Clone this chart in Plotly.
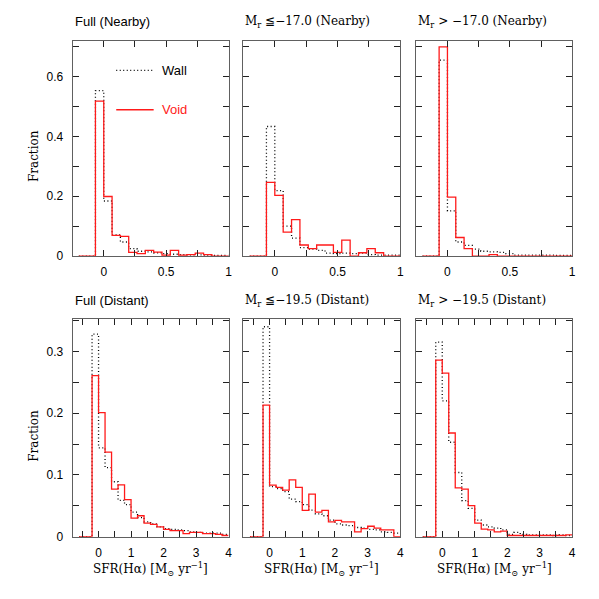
import plotly.graph_objects as go

# ---- bin definitions ----
# Nearby sample (top row): bins of 1/15, first edge at -0.2
NEAR_START = -0.2
NEAR_WIDTH = 1 / 15
# Distant sample (bottom row): bins of 0.2, first edge at -0.6
FAR_START = -0.6
FAR_WIDTH = 0.2

# ---- fractions per bin ----
full_near_wall = [0, 0, 0.553, 0.184, 0.071, 0.047, 0.025, 0.016, 0.014, 0.011,
                  0.008, 0.006, 0.005, 0.004, 0.004, 0.003, 0.002, 0.002]
full_near_void = [0, 0, 0.518, 0.199, 0.069, 0.066, 0.012, 0.008, 0.019, 0.013,
                  0.003, 0.019, 0.003, 0.005, 0.010, 0.005, 0.0, 0.0]

bright_near_wall = [0, 0, 0.433, 0.219, 0.100, 0.060, 0.028, 0.023, 0.019, 0.010,
                    0.008, 0.010, 0.008, 0.010, 0.005, 0.003, 0.003, 0.003]
bright_near_void = [0, 0, 0.246, 0.203, 0.080, 0.122, 0.037, 0.025, 0.037, 0.037,
                    0.012, 0.053, 0.0, 0.011, 0.025, 0.011, 0.0, 0.0]

faint_near_wall = [0, 0, 0.655, 0.151, 0.047, 0.036, 0.023, 0.016, 0.014, 0.012,
                   0.008, 0.003, 0.003, 0.003, 0.003, 0.003, 0.002, 0.002]
faint_near_void = [0, 0, 0.699, 0.197, 0.062, 0.025, 0.0, 0.0, 0.005, 0.0,
                   0.0, 0.0, 0.0, 0.0, 0.0, 0.0, 0.0, 0.0]

full_far_wall = [0, 0, 0.328, 0.144, 0.112, 0.089, 0.059, 0.052, 0.040, 0.031, 0.024,
                 0.021, 0.016, 0.013, 0.012, 0.011, 0.010, 0.008, 0.007, 0.006, 0.006,
                 0.006, 0.004]
full_far_void = [0, 0, 0.261, 0.201, 0.137, 0.077, 0.084, 0.060, 0.030, 0.034, 0.022,
                 0.020, 0.016, 0.012, 0.010, 0.010, 0.005, 0.007, 0.007, 0.005, 0.005,
                 0.004, 0.002]

bright_far_wall = [0, 0, 0.340, 0.081, 0.078, 0.073, 0.061, 0.057, 0.052, 0.043, 0.037,
                   0.034, 0.027, 0.021, 0.019, 0.018, 0.015, 0.014, 0.012, 0.011, 0.008,
                   0.007, 0.006]
bright_far_void = [0, 0, 0.213, 0.0835, 0.080, 0.0755, 0.092, 0.080, 0.0426, 0.069, 0.040,
                   0.0426, 0.024, 0.0266, 0.024, 0.024, 0.008, 0.013, 0.017, 0.014, 0.011,
                   0.011, 0.0]

faint_far_wall = [0, 0, 0.315, 0.220, 0.153, 0.104, 0.0585, 0.046, 0.027, 0.019, 0.016,
                  0.014, 0.011, 0.004, 0.007, 0.004, 0.003, 0.003, 0.003, 0.003, 0.002,
                  0.003, 0.002]
faint_far_void = [0, 0, 0.286, 0.265, 0.168, 0.079, 0.077, 0.0505, 0.022, 0.0122, 0.011,
                  0.008, 0.009, 0.002, 0.002, 0.002, 0.002, 0.002, 0.002, 0.002, 0.002,
                  0.002, 0.003]

titles = ["Full (Nearby)", "M<sub>r</sub> \u2266\u221217.0 (Nearby)", "M<sub>r</sub> > \u221217.0 (Nearby)",
          "Full (Distant)", "M<sub>r</sub> \u2266\u221219.5 (Distant)", "M<sub>r</sub> > \u221219.5 (Distant)"]

panels = [
    (full_near_wall, full_near_void, "near"),
    (bright_near_wall, bright_near_void, "near"),
    (faint_near_wall, faint_near_void, "near"),
    (full_far_wall, full_far_void, "far"),
    (bright_far_wall, bright_far_void, "far"),
    (faint_far_wall, faint_far_void, "far"),
]

# ---- geometry in pixels (599 x 599 page) ----
W = H = 599
COLS_PX = [(65, 222), (237, 395), (411, 568)]
ROWS_PX = [(33, 251), (315, 535)]

RED = "#ff1a1a"
FRAME = "#606060"
DOTS = "1px,2.5px"
SANS = "Liberation Sans, Arial, sans-serif"
SERIF = "DejaVu Serif, serif"


def step_xy(values, start, width):
    edges = [start + i * width for i in range(len(values) + 1)]
    return edges, list(values) + [values[-1]]


fig = go.Figure()
layout = {}
annotations = []

for i, (wall, void, kind) in enumerate(panels):
    r, c = divmod(i, 3)
    n = i + 1
    xa = "x" if n == 1 else f"x{n}"
    ya = "y" if n == 1 else f"y{n}"
    start, width = (NEAR_START, NEAR_WIDTH) if kind == "near" else (FAR_START, FAR_WIDTH)

    xs, ys = step_xy(wall, start, width)
    fig.add_trace(go.Scatter(x=xs, y=ys, mode="lines", line_shape="hv",
                             line=dict(color="black", width=1.3, dash=DOTS),
                             xaxis=xa, yaxis=ya, showlegend=False))
    xs, ys = step_xy(void, start, width)
    fig.add_trace(go.Scatter(x=xs, y=ys, mode="lines", line_shape="hv",
                             line=dict(color=RED, width=1.3),
                             xaxis=xa, yaxis=ya, showlegend=False))

    x0, x1 = COLS_PX[c]
    y0, y1 = ROWS_PX[r]
    if kind == "near":
        xr, xdt, xminor = [-0.25, 1.0], 0.5, 0.25
        yr, ydt, yminor = [0, 0.72], 0.2, 0.1
    else:
        xr, xdt, xminor = [-0.8, 4.0], 1, 0.5
        yr, ydt, yminor = [0, 0.352], 0.1, 0.05

    common = dict(showline=True, linecolor=FRAME, linewidth=1, mirror="ticks",
                  ticks="inside", ticklen=6, tickcolor="#222", tickwidth=1,
                  showgrid=False, zeroline=False,
                  tickfont=dict(family=SANS, size=12, color="black"))
    layout["xaxis" if n == 1 else f"xaxis{n}"] = dict(
        common, domain=[x0 / W, x1 / W], range=xr, tick0=0, dtick=xdt,
        minor=dict(dtick=xminor, tick0=0, ticks="inside", ticklen=6, tickcolor="#222"),
        anchor=ya, ticklabelstandoff=5)
    layout["yaxis" if n == 1 else f"yaxis{n}"] = dict(
        common, domain=[1 - y1 / H, 1 - y0 / H], range=yr, tick0=0, dtick=ydt,
        minor=dict(dtick=yminor, tick0=0, ticks="inside", ticklen=6, tickcolor="#222"),
        anchor=xa, showticklabels=(c == 0), ticklabelstandoff=6)

    annotations.append(dict(
        text=titles[i], xref="paper", yref="paper", x=x0 / W, y=1 - (y0 - 19) / H,
        xanchor="left", yanchor="middle", showarrow=False,
        font=dict(family=SANS if c == 0 else SERIF, size=13 if c == 0 else 12, color="black")))

    if r == 1:
        annotations.append(dict(
            text="SFR(H\u03b1) [M<sub>\u2299</sub> yr<sup>\u22121</sup>]", xref="paper", yref="paper",
            x=(x0 + x1) / 2 / W, y=1 - 568 / H, xanchor="center", yanchor="middle",
            showarrow=False, font=dict(family=SERIF, size=12, color="black")))
    if c == 0:
        annotations.append(dict(
            text="Fraction", xref="paper", yref="paper", x=26 / W,
            y=1 - ((y0 + y1) / 2 + 8) / H, textangle=-90, xanchor="center", yanchor="middle",
            showarrow=False, font=dict(family=SERIF, size=12, color="black")))

# legend drawn in the first panel
shapes = [
    dict(type="line", xref="x domain", yref="y domain", x0=0.28, x1=0.52, y0=0.862, y1=0.862,
         line=dict(color="black", width=1.3, dash=DOTS)),
    dict(type="line", xref="x domain", yref="y domain", x0=0.28, x1=0.52, y0=0.679, y1=0.679,
         line=dict(color=RED, width=1.3)),
]
annotations += [
    dict(text="Wall", xref="x domain", yref="y domain", x=0.56, y=0.862, xanchor="left",
         yanchor="middle", showarrow=False, font=dict(family=SANS, size=13, color="black")),
    dict(text="Void", xref="x domain", yref="y domain", x=0.56, y=0.679, xanchor="left",
         yanchor="middle", showarrow=False, font=dict(family=SANS, size=13, color=RED)),
]

fig.update_layout(
    **layout,
    annotations=annotations,
    shapes=shapes,
    width=W, height=H,
    margin=dict(l=0, r=0, t=0, b=0),
    plot_bgcolor="white", paper_bgcolor="white",
    showlegend=False,
)

fig.write_html("out.html")
